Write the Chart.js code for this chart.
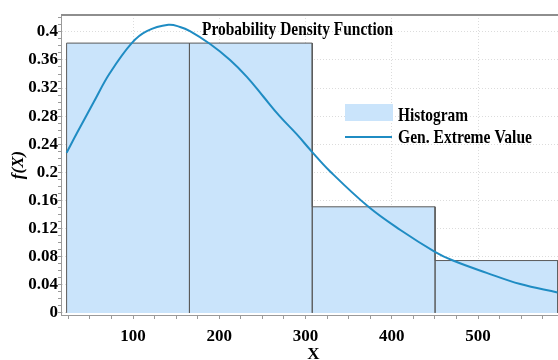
<!DOCTYPE html>
<html><head><meta charset="utf-8">
<script src="https://cdn.jsdelivr.net/npm/chart.js@4.4.1/dist/chart.umd.min.js"></script>
<style>
html,body{margin:0;padding:0;background:#fff;overflow:hidden;width:558px;height:360px;}
#wrap{position:absolute;left:0;top:0;width:575px;height:368px;}
</style></head><body>
<div id="wrap"><canvas id="c" width="575" height="368"></canvas></div>
<script>
// ---- data ----
const binEdges = [23, 165.4, 307.8, 450.2, 592.6];
const binHeights = [0.384, 0.384, 0.151, 0.0745];
const curveX = [23, 35, 54, 73, 98.5, 116, 141, 154.5, 166, 189, 212.5, 232, 251, 270, 290, 307, 328, 373, 410, 450, 471, 510, 549, 592];
const curveY = [0.228, 0.256, 0.299, 0.341, 0.384, 0.401, 0.410, 0.407, 0.401, 0.383, 0.360, 0.336, 0.308, 0.280, 0.254, 0.230, 0.202, 0.151, 0.118, 0.087, 0.0745, 0.057, 0.041, 0.029];
const xTickLabels = ['100', '200', '300', '400', '500'];
const yTickLabels = ['0', '0.04', '0.08', '0.12', '0.16', '0.2', '0.24', '0.28', '0.32', '0.36', '0.4'];
const titleText = 'Probability Density Function';
const seriesNames = ['Histogram', 'Gen. Extreme Value'];

const FILL = '#cae4fb';
const LINE = '#1f8cc3';
const SERIF = '"Liberation Serif", "Times New Roman", serif';

// histogram outline: each bin is its own rectangle (left edge, top, right edge)
const histData = [];
binHeights.forEach((h, i) => {
  histData.push({x: binEdges[i], y: 0}, {x: binEdges[i], y: h}, {x: binEdges[i + 1], y: h}, {x: binEdges[i + 1], y: 0});
});
const lineData = curveX.map((x, i) => ({x: x, y: curveY[i]}));
const xMajor = xTickLabels.map(Number);
const yMajor = yTickLabels.map(Number);
const near = (v, arr) => arr.findIndex(a => Math.abs(a - v) < 1e-6);

function drawSqueezed(ctx, text, x, y, w) {
  const m = ctx.measureText(text).width;
  ctx.save();
  ctx.translate(x, y);
  ctx.scale(w / m, 1);
  ctx.fillText(text, 0, 0);
  ctx.restore();
}

const decor = {
  id: 'decor',
  afterDraw(chart) {
    const {ctx, chartArea: a} = chart;
    ctx.save();
    ctx.strokeStyle = '#8e8e8e';
    ctx.lineWidth = 2;
    ctx.beginPath(); ctx.moveTo(a.left, a.top); ctx.lineTo(a.right, a.top); ctx.stroke();
    ctx.fillStyle = '#000';
    ctx.textBaseline = 'alphabetic';
    ctx.textAlign = 'left';
    ctx.font = 'bold 19px ' + SERIF;
    drawSqueezed(ctx, titleText, 202, 34.5, 191);
    // legend
    ctx.fillStyle = FILL;
    ctx.fillRect(345, 104, 48, 17);
    ctx.strokeStyle = LINE; ctx.lineWidth = 2;
    ctx.beginPath(); ctx.moveTo(345, 137); ctx.lineTo(392, 137); ctx.stroke();
    ctx.fillStyle = '#000';
    drawSqueezed(ctx, seriesNames[0], 398, 120.5, 70);
    drawSqueezed(ctx, seriesNames[1], 398, 143.3, 134);
    ctx.restore();
  }
};

new Chart(document.getElementById('c'), {
  type: 'line',
  data: {
    datasets: [
      {label: seriesNames[1], data: lineData, borderColor: LINE, borderWidth: 2,
       pointRadius: 0, fill: false, tension: 0.4, order: 0},
      {label: seriesNames[0], data: histData, backgroundColor: FILL, borderColor: '#5a5a5a',
       borderWidth: 1, pointRadius: 0, tension: 0, fill: 'origin', order: 1}
    ]
  },
  options: {
    responsive: false,
    animation: false,
    devicePixelRatio: 1,
    layout: {padding: {top: 15, left: 0, right: 9, bottom: 0}},
    plugins: {legend: {display: false}, title: {display: false}, tooltip: {enabled: false}},
    scales: {
      x: {
        type: 'linear', min: 16.5, max: 602, offset: false,
        afterBuildTicks(s) { const t = []; for (let v = 25; v <= 600; v += 25) t.push({value: v}); s.ticks = t; },
        afterFit(s) { s.height = 53; },
        grid: {
          offset: false, drawOnChartArea: true, tickLength: 4, tickBorderDash: [],
          color: c => near(c.tick.value, xMajor) >= 0 ? '#dcdcdc' : 'rgba(0,0,0,0)',
          tickColor: '#9a9a9a'
        },
        border: {color: '#9a9a9a', width: 1, dash: [1, 2]},
        ticks: {
          autoSkip: false, maxRotation: 0, padding: 7, color: '#000',
          font: {family: SERIF, size: 17, weight: 'bold'},
          callback: v => { const i = near(v, xMajor); return i >= 0 ? xTickLabels[i] : ''; }
        },
        title: {display: true, text: 'X', color: '#000', padding: {top: 0, bottom: 3},
                font: {family: SERIF, size: 17, weight: 'bold'}}
      },
      y: {
        type: 'linear', min: -0.003, max: 0.424,
        afterBuildTicks(s) { const t = []; for (let k = 0; k <= 42; k++) t.push({value: k / 100}); s.ticks = t; },
        afterFit(s) { s.width = 61; },
        grid: {
          drawOnChartArea: true, tickLength: 3, tickBorderDash: [],
          color: c => near(c.tick.value, yMajor) >= 0 ? '#dcdcdc' : 'rgba(0,0,0,0)',
          tickColor: '#9a9a9a'
        },
        border: {color: '#9a9a9a', width: 1, dash: [1, 2]},
        ticks: {
          autoSkip: false, padding: 0, color: '#000',
          font: {family: SERIF, size: 17, weight: 'bold'},
          callback: v => { const i = near(v, yMajor); return i >= 0 ? yTickLabels[i] : ''; }
        },
        title: {display: true, text: 'f(X)', color: '#000', padding: {top: 8, bottom: 0},
                font: {family: SERIF, size: 17, weight: 'bold', style: 'italic'}}
      }
    }
  },
  plugins: [decor]
});
</script>
</body></html>
